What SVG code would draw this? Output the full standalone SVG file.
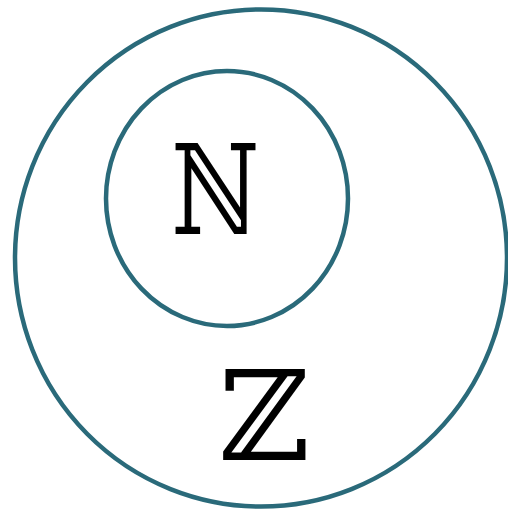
<svg xmlns="http://www.w3.org/2000/svg" width="508" height="512" viewBox="0 0 508 512">
<style>
.set{fill:none;stroke:#2a6a7a;stroke-width:4.5}
.lbl{font-family:"DejaVu Serif","Liberation Serif",serif;font-size:125px;fill:#000;text-anchor:middle}
</style>
<rect width="508" height="512" fill="#fff"/>
<g id="Z">
<ellipse class="set" cx="261" cy="258" rx="246" ry="248.5"/>
<text class="lbl" x="264" y="460">ℤ</text>
</g>
<g id="N">
<ellipse class="set" cx="227" cy="198.5" rx="121" ry="127.5"/>
<text class="lbl" x="0" y="234" transform="translate(215.5 0) scale(0.77 1)">ℕ</text>
</g>
<g id="connectors"/>
</svg>
